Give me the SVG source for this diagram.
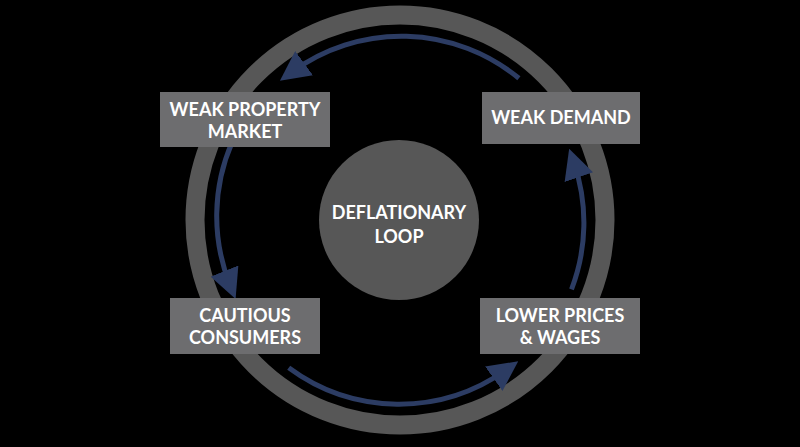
<svg xmlns="http://www.w3.org/2000/svg" width="800" height="447" viewBox="0 0 800 447">
<style>
.box{fill:#6d6d6f}
.t{font-family:Lato,"Liberation Sans",sans-serif;font-weight:bold;font-size:18px;fill:#fff;text-anchor:middle}
.arc{fill:none;stroke:#2c3c63;stroke-width:5}
</style>
<defs>
<marker id="ah" markerWidth="6" markerHeight="6" refX="3" refY="3" orient="auto" markerUnits="strokeWidth">
<path d="M0,0 L6,3 L0,6 Z" fill="#2c3c63"/>
</marker>
</defs>
<rect width="800" height="447" fill="#000"/>
<circle cx="400" cy="220" r="205" fill="none" stroke="#575757" stroke-width="19"/>
<g id="connectors">
<path class="arc" marker-end="url(#ah)" d="M518.9,78.3 A185,185 0 0 0 292,72"/>
<path class="arc" marker-end="url(#ah)" d="M232.3,141.8 A185,185 0 0 0 230,285"/>
<path class="arc" marker-end="url(#ah)" d="M288.7,367.8 A185,185 0 0 0 506,370"/>
<path class="arc" marker-end="url(#ah)" d="M571.5,289.3 A185,185 0 0 0 574,163"/>
</g>
<g id="center"><circle cx="399" cy="220" r="80" fill="#575757"/>
<text class="t" x="399" y="219">DEFLATIONARY</text><text class="t" x="399" y="243">LOOP</text></g>
<g id="weak-property"><rect class="box" x="160" y="92" width="170" height="55"/>
<text class="t" x="245" y="116">WEAK PROPERTY</text><text class="t" x="245" y="138">MARKET</text></g>
<g id="weak-demand"><rect class="box" x="482" y="92" width="158" height="52"/>
<text class="t" x="561" y="124">WEAK DEMAND</text></g>
<g id="cautious"><rect class="box" x="170" y="298" width="150" height="56"/>
<text class="t" x="245" y="322">CAUTIOUS</text><text class="t" x="245" y="344">CONSUMERS</text></g>
<g id="lower-prices"><rect class="box" x="480" y="298" width="160" height="56"/>
<text class="t" x="560" y="322">LOWER PRICES</text><text class="t" x="560" y="344">&amp; WAGES</text></g>
</svg>
